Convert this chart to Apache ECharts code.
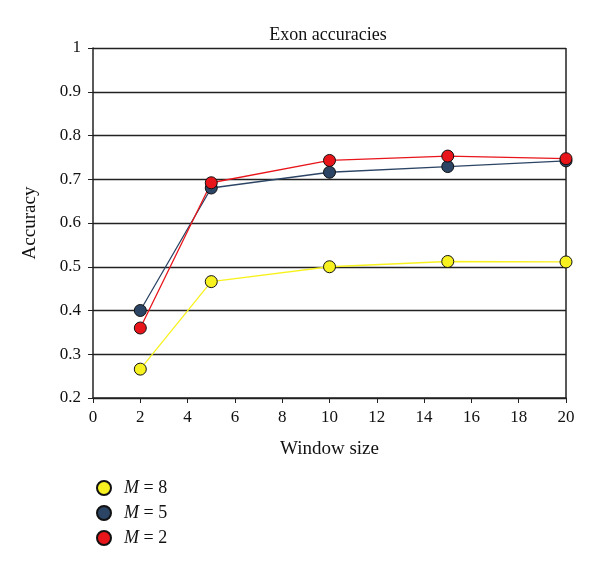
<!DOCTYPE html>
<html><head><meta charset="utf-8">
<script src="https://cdn.jsdelivr.net/npm/echarts@6/dist/echarts.min.js"></script>
<style>html,body{margin:0;padding:0;background:#fff}#c{width:600px;height:564px}</style>
</head><body><div id="c"></div>
<script>
var windowSizes = [2, 5, 10, 15, 20];
var m8 = [0.266, 0.466, 0.500, 0.512, 0.511];
var m5 = [0.400, 0.680, 0.716, 0.729, 0.742];
var m2 = [0.360, 0.692, 0.743, 0.753, 0.747];
var seriesNames = ['M = 8', 'M = 5', 'M = 2'];
var xTicks = [0, 2, 4, 6, 8, 10, 12, 14, 16, 18, 20];
var yTicks = [0.2, 0.3, 0.4, 0.5, 0.6, 0.7, 0.8, 0.9, 1];

var font = 'Liberation Serif';
function pts(v){ return windowSizes.map(function(x,i){ return [x, v[i]]; }); }
function mk(name, data, color){
  return {
    name: name, type: 'line', data: pts(data),
    symbol: 'circle', symbolSize: 12,
    lineStyle: {color: color, width: 1.3},
    itemStyle: {color: color, borderColor: '#111', borderWidth: 1},
    z: 3
  };
}
var chart = echarts.init(document.getElementById('c'));
chart.setOption({
  animation: false,
  backgroundColor: '#fff',
  title: {text: 'Exon accuracies', left: 323, textAlign: 'center', top: 21,
    textStyle: {fontFamily: font, fontWeight: 'normal', fontSize: 18, color: '#111'}},
  grid: {left: 93, right: 34, top: 48, bottom: 166},
  xAxis: {
    type: 'value', min: 0, max: 20, interval: 2,
    name: 'Window size', nameLocation: 'middle', nameGap: 42,
    nameTextStyle: {fontFamily: font, fontSize: 19, color: '#111'},
    axisLine: {show: true, onZero: false, lineStyle: {color: '#222', width: 1.5}},
    axisTick: {show: true, length: 5, lineStyle: {color: '#222'}},
    axisLabel: {fontFamily: font, fontSize: 17, color: '#111', margin: 11,
      formatter: function(v){ return xTicks.indexOf(v) >= 0 ? String(v) : ''; }},
    splitLine: {show: false}
  },
  yAxis: {
    type: 'value', min: 0.2, max: 1, interval: 0.1,
    name: 'Accuracy', nameLocation: 'middle', nameGap: 53,
    nameTextStyle: {fontFamily: font, fontSize: 19, color: '#111'},
    axisLine: {show: true, lineStyle: {color: '#222', width: 1.5}},
    axisTick: {show: true, length: 5, lineStyle: {color: '#222'}},
    axisLabel: {fontFamily: font, fontSize: 17, color: '#111', margin: 12,
      formatter: function(v){ var r = Math.round(v*10)/10; return yTicks.indexOf(r) >= 0 ? String(r) : ''; }},
    splitLine: {show: true, lineStyle: {color: '#222', width: 1.3}}
  },
  legend: {
    orient: 'vertical', left: 91, top: 474, itemGap: 7,
    itemWidth: 14, itemHeight: 14, icon: 'circle',
    data: seriesNames,
    formatter: function(n){ return '{i|M}{t|' + n.slice(1) + '}'; },
    textStyle: {fontFamily: font, fontSize: 18, color: '#111', padding: [0,0,0,8],
      rich: {i: {fontFamily: font, fontStyle: 'italic', fontSize: 18, color: '#111'},
             t: {fontFamily: font, fontSize: 18, color: '#111'}}}
  },
  series: [
    mk(seriesNames[0], m8, '#f7f21f'),
    mk(seriesNames[1], m5, '#2c4565'),
    mk(seriesNames[2], m2, '#e8151b'),
    {type: 'line', data: [[20, 0.2], [20, 1]], symbol: 'none', silent: true,
     lineStyle: {color: '#222', width: 1.5}, z: 1, legendHoverLink: false}
  ]
});
</script></body></html>
